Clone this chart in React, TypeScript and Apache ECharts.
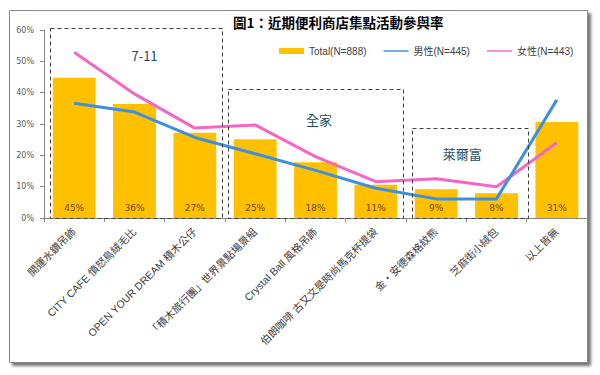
import React, { useEffect, useRef } from 'react';
import * as echarts from 'echarts';

const categories = [
  '開運水鑽吊飾',
  'CITY CAFE 憤怒鳥絨毛比',
  'OPEN YOUR DREAM 積木公仔',
  '「積木旅行團」世界景點場景組',
  'Crystal Ball 風格吊飾',
  '伯朗咖啡 古又文是時尚馬克杯提袋',
  '金・安德森格紋熊',
  '芝麻街小絨包',
  '以上皆無',
];
const totalValues = [44.8, 36.4, 27.2, 25.1, 17.8, 10.6, 9.2, 7.9, 30.6];
const maleValues = [36.6, 33.8, 25.7, 20.5, 15.2, 9.5, 6.1, 6.1, 37.7];
const femaleValues = [52.9, 39.6, 28.7, 29.7, 19.6, 11.6, 12.5, 10.0, 24.0];
const seriesNames = ['Total(N=888)', '男性(N=445)', '女性(N=443)'];
const yMin = 0;
const yMax = 60;
const yInterval = 10;

const groupLabels = ['7-11', '全家', '萊爾富'];
const groupFrom = [0, 3, 6];
const groupTo = [2, 5, 7];
const groupTop = [60.6, 41.1, 28.7];

const titleText = '圖1：近期便利商店集點活動參與率';

export default function App() {
  const ref = useRef<HTMLDivElement>(null);
  useEffect(() => {
    const chart = echarts.init(ref.current!, null, { renderer: 'svg' });
    const cjk = "'Noto Sans CJK TC', sans-serif";
    const lineIcon = 'path://M0,0H24V1.4H0Z';
    chart.setOption({
      animation: false,
      backgroundColor: '#ffffff',
      title: {
        text: titleText,
        left: 228,
        top: 10,
        textStyle: { fontSize: 13.5, fontWeight: 'bold', color: '#000', fontFamily: cjk },
      },
      legend: {
        left: 274,
        top: 41,
        itemWidth: 25,
        itemHeight: 6,
        itemGap: 17,
        textStyle: { fontSize: 10, color: '#404040', fontFamily: "'Liberation Sans', 'Noto Sans CJK TC', sans-serif" },
        data: [
          { name: seriesNames[0], icon: 'rect' },
          { name: seriesNames[1], icon: lineIcon },
          { name: seriesNames[2], icon: lineIcon },
        ],
      },
      grid: { left: 44, right: 13, top: 30, bottom: 157, containLabel: false },
      xAxis: {
        type: 'category',
        data: categories,
        boundaryGap: true,
        axisLine: { lineStyle: { color: '#868686', width: 1 } },
        axisTick: { show: true, length: 4, lineStyle: { color: '#868686' } },
        axisLabel: {
          interval: 0,
          rotate: 45,
          margin: 12,
          fontSize: 10.5,
          color: '#404040',
          fontFamily: "'Liberation Sans', 'Noto Sans CJK TC', sans-serif",
        },
      },
      yAxis: {
        type: 'value',
        min: yMin,
        max: yMax,
        interval: yInterval,
        splitLine: { show: false },
        axisLine: { show: true, lineStyle: { color: '#868686', width: 1 } },
        axisTick: { show: true, length: 4, lineStyle: { color: '#868686' } },
        axisLabel: {
          formatter: '{value}%',
          fontSize: 8,
          margin: 10,
          color: '#595959',
          fontFamily: "'DejaVu Sans', sans-serif",
        },
      },
      series: [
        {
          name: seriesNames[0],
          type: 'bar',
          data: totalValues,
          barCategoryGap: '29%',
          itemStyle: { color: '#FFC000' },
          label: {
            show: true,
            position: 'insideBottom',
            distance: 6,
            formatter: (p: any) => Math.round(p.value) + '%',
            fontSize: 9,
            color: '#7a4100',
            fontFamily: "'DejaVu Sans', sans-serif",
          },
          z: 2,
        },
        {
          name: seriesNames[1],
          type: 'line',
          data: maleValues,
          symbol: 'none',
          lineStyle: { color: '#3D8FE0', width: 3 },
          itemStyle: { color: '#3D8FE0' },
          z: 4,
        },
        {
          name: seriesNames[2],
          type: 'line',
          data: femaleValues,
          symbol: 'none',
          lineStyle: { color: '#F466C6', width: 3 },
          itemStyle: { color: '#F466C6' },
          z: 3,
        },
      ],
    });

    const cx = (i: number) => chart.convertToPixel({ xAxisIndex: 0 }, i) as number;
    const cy = (v: number) => chart.convertToPixel({ yAxisIndex: 0 }, v) as number;
    const bw = cx(1) - cx(0);
    const leftInset = [5.5, 3.3, 6];
    const rightInset = [-3.5, -2.5, 1];
    const labelDx = [9, 3, -7.5];
    const labelDy = [27.5, 30, 25];
    const bottom = cy(0);

    const graphics: any[] = [
      {
        type: 'rect',
        z: -100,
        silent: true,
        shape: { x: 9.5, y: 10.5, width: 578, height: 352 },
        style: {
          fill: '#ffffff',
          stroke: '#8a8a8a',
          lineWidth: 1,
          shadowBlur: 3,
          shadowOffsetX: 3,
          shadowOffsetY: 3,
          shadowColor: 'rgba(0,0,0,0.55)',
        },
      },
    ];
    groupLabels.forEach((lab, g) => {
      const x1 = cx(groupFrom[g]) - bw / 2 + leftInset[g];
      const x2 = cx(groupTo[g]) + bw / 2 + rightInset[g];
      const y1 = cy(groupTop[g]);
      graphics.push({
        type: 'rect',
        z: 10,
        silent: true,
        shape: { x: Math.round(x1) + 0.5, y: Math.round(y1) + 0.5, width: Math.round(x2 - x1), height: Math.round(bottom - y1) },
        style: { fill: 'none', stroke: '#404040', lineWidth: 1, lineDash: [4, 3] },
      });
      graphics.push({
        type: 'text',
        z: 10,
        silent: true,
        x: (x1 + x2) / 2 + labelDx[g],
        y: y1 + labelDy[g],
        style: {
          text: lab,
          fontSize: 13,
          fill: '#1f4e5f',
          fontFamily: cjk,
          align: 'center',
          verticalAlign: 'middle',
        },
      });
    });
    chart.setOption({ graphic: graphics });

    return () => chart.dispose();
  }, []);
  return (
    <div
      ref={ref}
      style={{ position: 'absolute', left: 0, top: 0, width: 600, height: 375 }}
    />
  );
}
